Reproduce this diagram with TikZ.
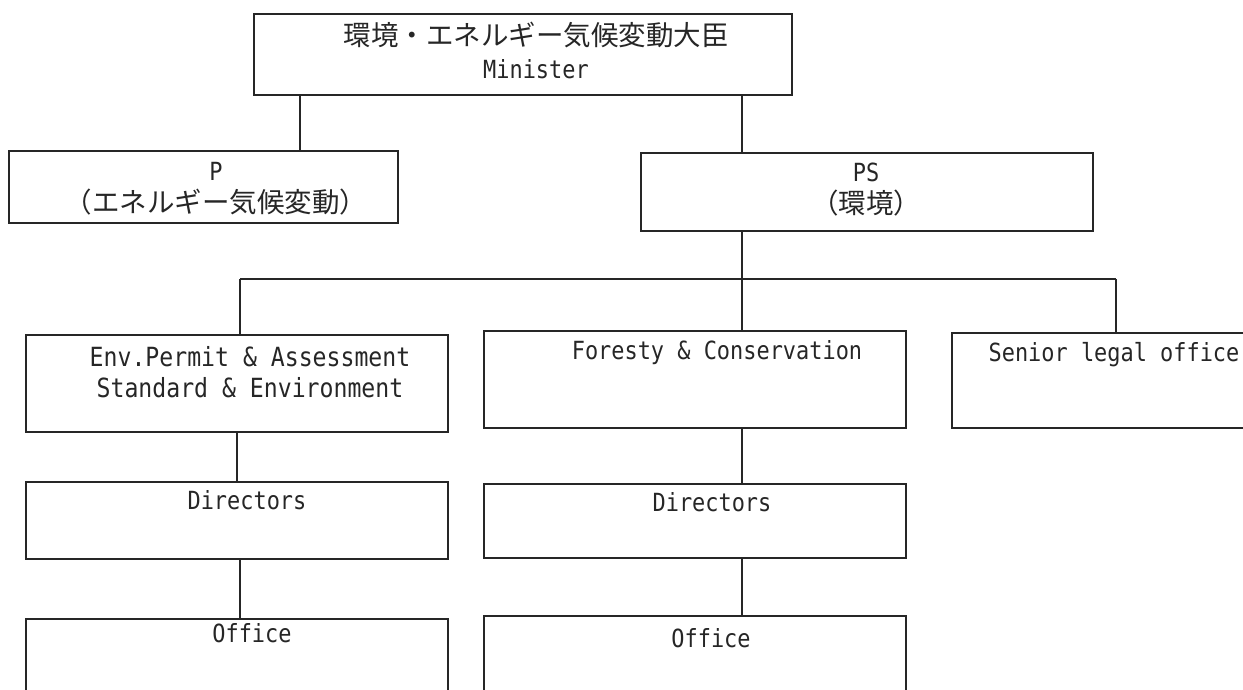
\documentclass[tikz,border=0pt]{standalone}
\usepackage{fontspec}
\setmainfont[FakeStretch=0.877]{DejaVu Sans Mono}
\newfontfamily\jpfont[Scale=1.1]{Noto Sans CJK JP}
\usetikzlibrary{positioning}

\begin{document}
\begin{tikzpicture}[x=0.5pt, y=-0.5pt,
    box/.style={draw=black!85, line width=1pt, rectangle, anchor=north west, inner sep=0pt, outer sep=0pt},
    lbl/.style={align=center, inner sep=0pt, text=black!85, font=\fontsize{12.5}{16}\selectfont},
    conn/.style={draw=black!85, line width=1.3pt}]
  \useasboundingbox (0,0) rectangle (1243,690);
  \clip (0,0) rectangle (1243,690);
  % boxes
  \node[box, minimum width=269pt, minimum height=40.5pt] (minister) at (254,14) {};
  \node[box, minimum width=194.5pt, minimum height=36pt] (p) at (9,151) {};
  \node[box, minimum width=226pt, minimum height=39pt] (ps) at (641,153) {};
  \node[box, minimum width=211pt, minimum height=48.5pt] (envbox) at (26,335) {};
  \node[box, minimum width=211pt, minimum height=48.5pt] (forbox) at (484,331) {};
  \node[box, minimum width=211pt, minimum height=47.5pt] (senbox) at (952,333) {};
  \node[box, minimum width=211pt, minimum height=38.5pt] (dir1) at (26,482) {};
  \node[box, minimum width=211pt, minimum height=37pt] (dir2) at (484,484) {};
  \node[box, minimum width=211pt, minimum height=50pt] (off1) at (26,619) {};
  \node[box, minimum width=211pt, minimum height=50pt] (off2) at (484,616) {};
  % texts
  \node[lbl, font=\fontsize{12.5}{16.5}\selectfont] (tmin) at (536,50) {{\jpfont 環境・エネルギー気候変動大臣}\\Minister};
  \node[lbl] (tp) at (216,188.5) {P\\{\jpfont （エネルギー気候変動）}};
  \node[lbl] (tps) at (866,190) {PS\\{\jpfont （環境）}};
  \node[lbl, font=\fontsize{13.2}{15.5}\selectfont] (tenv) at (250,372) {Env.Permit \& Assessment\\Standard \& Environment};
  \node[lbl] (tfor) at (717,353) {Foresty \& Conservation};
  \node[lbl] (tsen) at (1114,355) {Senior legal office};
  \node[lbl] (tdir1) at (247,500) {Directors};
  \node[lbl] (tdir2) at (712,502) {Directors};
  \node[lbl] (toff1) at (252,633) {Office};
  \node[lbl] (toff2) at (711,638) {Office};
  % connectors
  \coordinate (xp) at (300,0);
  \coordinate (bus) at (742,279);
  \coordinate (xenv) at (240,0);
  \coordinate (xsen) at (1116,0);
  \coordinate (xdir1) at (237,0);
  \draw[conn] (minister.south -| xp) -- (p.north -| xp);
  \draw[conn] (minister.south -| bus) -- (ps.north -| bus);
  \draw[conn] (ps.south -| bus) -- (bus);
  \draw[conn] (bus -| xenv) -- (bus -| xsen);
  \draw[conn] (bus -| xenv) -- (envbox.north -| xenv);
  \draw[conn] (bus) -- (forbox.north -| bus);
  \draw[conn] (bus -| xsen) -- (senbox.north -| xsen);
  \draw[conn] (envbox.south -| xdir1) -- (dir1.north -| xdir1);
  \draw[conn] (dir1.south -| xenv) -- (off1.north -| xenv);
  \draw[conn] (forbox.south -| bus) -- (dir2.north -| bus);
  \draw[conn] (dir2.south -| bus) -- (off2.north -| bus);
\end{tikzpicture}
\end{document}
